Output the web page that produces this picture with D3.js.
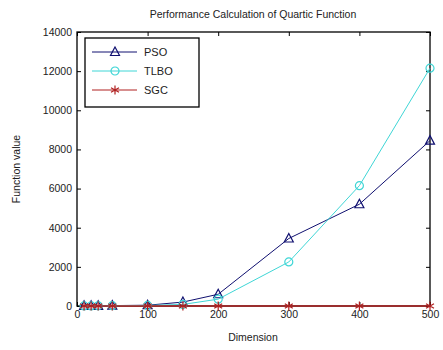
<!DOCTYPE html>
<meta charset="utf-8">
<style>
body { margin: 0; background: #fff; }
text { font-family: "Liberation Sans", Arial, sans-serif; fill: #222; }
</style>
<svg width="443" height="350"></svg>
<script src="https://cdn.jsdelivr.net/npm/d3@7/dist/d3.min.js"></script>
<script>

// dimensions and results
var dims = [10, 20, 30, 50, 100, 150, 200, 300, 400, 500];
var pso  = [5, 8, 10, 20, 40, 200, 600, 3450, 5200, 8450];
var tlbo = [3, 5, 8, 15, 30, 80, 350, 2250, 6150, 12150];
var sgc  = [0, 0, 0, 0, 0, 0, 0, 0, 0, 0];
var xTicks = [0, 100, 200, 300, 400, 500];
var yTicks = [0, 2000, 4000, 6000, 8000, 10000, 12000, 14000];

var svg = d3.select("svg"),
    pl = 77, pr = 430, pt = 32, pb = 306;

var x = d3.scaleLinear().domain([0, 500]).range([pl, pr]);
var y = d3.scaleLinear().domain([0, 14000]).range([pb, pt]);

var series = [
  {name: "PSO", values: pso, color: "#101070", marker: "triangle"},
  {name: "TLBO", values: tlbo, color: "#3fd6d6", marker: "circle"},
  {name: "SGC", values: sgc, color: "#b02020", marker: "star"}
];

// box
svg.append("rect")
    .attr("x", pl).attr("y", pt)
    .attr("width", pr - pl).attr("height", pb - pt)
    .attr("fill", "#fff").attr("stroke", "#000").attr("stroke-width", 1.3);

var fmt = d3.format("d");

// axes with inward ticks
svg.append("g").attr("transform", "translate(0," + pb + ")")
    .call(d3.axisBottom(x).tickValues(xTicks).tickSizeInner(-4).tickSizeOuter(0).tickPadding(5).tickFormat(fmt))
    .call(function(g) { g.select(".domain").remove(); });
svg.append("g").attr("transform", "translate(0," + pt + ")")
    .call(d3.axisTop(x).tickValues(xTicks).tickSizeInner(-4).tickSizeOuter(0).tickFormat(""))
    .call(function(g) { g.select(".domain").remove(); });
svg.append("g").attr("transform", "translate(" + pl + ",0)")
    .call(d3.axisLeft(y).tickValues(yTicks).tickSizeInner(-4).tickSizeOuter(0).tickPadding(5).tickFormat(fmt))
    .call(function(g) { g.select(".domain").remove(); });
svg.append("g").attr("transform", "translate(" + pr + ",0)")
    .call(d3.axisRight(y).tickValues(yTicks).tickSizeInner(-4).tickSizeOuter(0).tickFormat(""))
    .call(function(g) { g.select(".domain").remove(); });

svg.selectAll(".tick text").attr("font-size", 10.5).attr("fill", "#333")
    .attr("font-family", "Liberation Sans, Arial, sans-serif");
svg.selectAll(".tick line").attr("stroke", "#000");

var line = d3.line()
    .x(function(d, i) { return x(dims[i]); })
    .y(function(d) { return y(d); });

function drawMarker(g, type, color) {
  if (type === "triangle") {
    g.append("path").attr("d", "M0,-5L4.5,3.5L-4.5,3.5Z")
        .attr("fill", "none").attr("stroke", color).attr("stroke-width", 1.2);
  } else if (type === "circle") {
    g.append("circle").attr("r", 4)
        .attr("fill", "none").attr("stroke", color).attr("stroke-width", 1.2);
  } else {
    g.append("path").attr("d", "M0,-4.5V4.5M-4,-2.3L4,2.3M-4,2.3L4,-2.3")
        .attr("stroke", color).attr("stroke-width", 1.2);
  }
}

series.forEach(function(s) {
  svg.append("path").datum(s.values)
      .attr("d", line).attr("fill", "none")
      .attr("stroke", s.color).attr("stroke-width", s.name === "SGC" ? 1.6 : 1);
  s.values.forEach(function(v, i) {
    var g = svg.append("g").attr("transform", "translate(" + x(dims[i]) + "," + y(v) + ")");
    drawMarker(g, s.marker, s.color);
  });
});

// legend
var leg = svg.append("g");
leg.append("rect").attr("x", 85).attr("y", 38).attr("width", 114).attr("height", 69)
    .attr("fill", "#fff").attr("stroke", "#000").attr("stroke-width", 1.3);
series.forEach(function(s, i) {
  var ly = 52 + i * 19;
  leg.append("line").attr("x1", 92).attr("x2", 137).attr("y1", ly).attr("y2", ly)
      .attr("stroke", s.color).attr("stroke-width", 1);
  drawMarker(leg.append("g").attr("transform", "translate(115," + ly + ")"), s.marker, s.color);
  leg.append("text").attr("x", 144).attr("y", ly + 4).attr("font-size", 11).text(s.name);
});

// titles
svg.append("text").attr("x", 253).attr("y", 18).attr("text-anchor", "middle")
    .attr("font-size", 10.5).text("Performance Calculation of Quartic Function");
svg.append("text").attr("x", 253).attr("y", 341).attr("text-anchor", "middle")
    .attr("font-size", 10.5).text("Dimension");
svg.append("text").attr("transform", "translate(20," + ((pt + pb) / 2) + ") rotate(-90)")
    .attr("text-anchor", "middle").attr("font-size", 10.5).text("Function value");

</script>
